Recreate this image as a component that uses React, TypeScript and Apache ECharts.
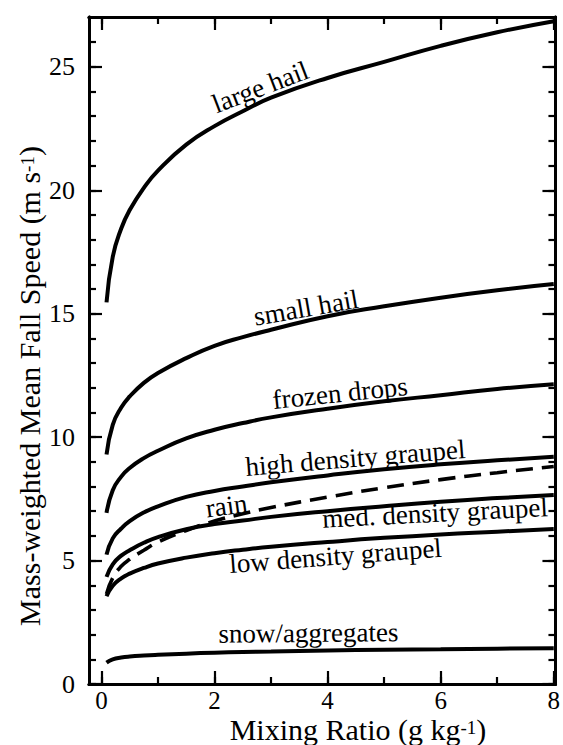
import React, { useEffect, useRef } from "react";
import * as echarts from "echarts";

// Mixing ratio (g/kg) sample positions
const mixingRatio = [0.09, 0.2, 0.35, 0.5, 0.75, 1, 1.5, 2, 2.5, 3, 4, 5, 6, 7, 8];

// Mass-weighted mean fall speed (m/s) for each category
const largeHail = [15.46, 17.3, 18.45, 19.2, 20.1, 20.8, 21.85, 22.6, 23.2, 23.75, 24.55, 25.2, 25.85, 26.4, 26.85];
const smallHail = [9.3, 10.5, 11.2, 11.65, 12.2, 12.6, 13.2, 13.7, 14.05, 14.35, 14.9, 15.3, 15.65, 15.95, 16.2];
const frozenDrops = [6.93, 7.85, 8.4, 8.75, 9.15, 9.45, 9.95, 10.3, 10.57, 10.8, 11.15, 11.45, 11.7, 11.95, 12.14];
const highDensityGraupel = [5.24, 5.9, 6.3, 6.6, 6.95, 7.2, 7.58, 7.82, 8.0, 8.17, 8.45, 8.7, 8.9, 9.06, 9.21];
const rain = [3.65, 4.3, 4.77, 5.05, 5.42, 5.75, 6.22, 6.6, 6.9, 7.15, 7.57, 7.95, 8.28, 8.56, 8.81];
const medDensityGraupel = [4.34, 4.85, 5.2, 5.42, 5.72, 5.95, 6.27, 6.48, 6.62, 6.77, 7.0, 7.2, 7.38, 7.53, 7.66];
const lowDensityGraupel = [3.55, 3.98, 4.28, 4.47, 4.7, 4.88, 5.12, 5.3, 5.44, 5.56, 5.75, 5.92, 6.06, 6.17, 6.28];
const snowAggregates = [0.87, 1.0, 1.07, 1.11, 1.15, 1.18, 1.23, 1.27, 1.3, 1.32, 1.36, 1.39, 1.41, 1.43, 1.45];

// Tick positions
const xMinorTicks = [0, 1, 2, 3, 4, 5, 6, 7, 8];
const xMajorTicks = [0, 2, 4, 6, 8];
const yMinorTicks = [0, 1, 2, 3, 4, 5, 6, 7, 8, 9, 10, 11, 12, 13, 14, 15, 16, 17, 18, 19, 20, 21, 22, 23, 24, 25, 26];
const yMajorTicks = [0, 5, 10, 15, 20, 25];

// Curve annotations (anchor in data space, angle in degrees)
const curveLabels = [
  { text: "large hail", x: 2.81, y: 24.18, angle: 21 },
  { text: "small hail", x: 3.62, y: 15.24, angle: 10 },
  { text: "frozen drops", x: 4.22, y: 11.79, angle: 6 },
  { text: "high density graupel", x: 4.49, y: 9.16, angle: 4.7 },
  { text: "rain", x: 2.21, y: 7.22, angle: 8 },
  { text: "med. density graupel", x: 5.9, y: 6.93, angle: 3 },
  { text: "low density graupel", x: 4.14, y: 5.19, angle: 4.4 },
  { text: "snow/aggregates", x: 3.66, y: 2.07, angle: 0.5 },
];

const FONT = "Liberation Serif";
const X_MIN = -0.22;
const X_MAX = 8.03;
const Y_MIN = 0;
const Y_MAX = 27.02;

export default function App() {
  const ref = useRef<HTMLDivElement>(null);

  useEffect(() => {
    if (!ref.current) return;
    const chart = echarts.init(ref.current, null, { renderer: "svg" });

    const mkX = (position: string, ticks: number[], len: number, labels: boolean) => ({
      type: "value",
      min: X_MIN,
      max: X_MAX,
      position,
      axisLine: { show: true, onZero: false, lineStyle: { color: "#000", width: 3 } },
      axisTick: { show: true, inside: true, length: len, customValues: ticks, lineStyle: { color: "#000", width: 2.2 } },
      axisLabel: labels
        ? { show: true, customValues: xMajorTicks, fontFamily: FONT, fontSize: 25, lineHeight: 20, color: "#000", margin: 6 }
        : { show: false },
      splitLine: { show: false },
    });
    const mkY = (position: string, ticks: number[], len: number, labels: boolean) => ({
      type: "value",
      min: Y_MIN,
      max: Y_MAX,
      position,
      axisLine: { show: true, onZero: false, lineStyle: { color: "#000", width: 3 } },
      axisTick: { show: true, inside: true, length: len, customValues: ticks, lineStyle: { color: "#000", width: 2.2 } },
      axisLabel: labels
        ? { show: true, customValues: yMajorTicks, fontFamily: FONT, fontSize: 26, color: "#000", margin: 14 }
        : { show: false },
      splitLine: { show: false },
    });

    const mkSeries = (name: string, values: number[], dashed = false) => ({
      name,
      type: "line",
      xAxisIndex: 0,
      yAxisIndex: 0,
      data: mixingRatio.map((x, i) => [x, values[i]]),
      showSymbol: false,
      symbol: "none",
      smooth: 0.5,
      lineStyle: { color: "#000", width: dashed ? 3.6 : 4, type: dashed ? [17, 9] : "solid", cap: "butt" },
      silent: true,
    });

    chart.setOption({
      animation: false,
      backgroundColor: "#fff",
      grid: { left: 89, right: 6, top: 17, bottom: 61, containLabel: false },
      xAxis: [
        mkX("bottom", xMinorTicks, 7, false),
        mkX("bottom", xMajorTicks, 13, true),
        mkX("top", xMinorTicks, 7, false),
        mkX("top", xMajorTicks, 13, false),
      ],
      yAxis: [
        mkY("left", yMinorTicks, 7, false),
        mkY("left", yMajorTicks, 13, true),
        mkY("right", yMinorTicks, 7, false),
        mkY("right", yMajorTicks, 13, false),
      ],
      series: [
        mkSeries("large hail", largeHail),
        mkSeries("small hail", smallHail),
        mkSeries("frozen drops", frozenDrops),
        mkSeries("high density graupel", highDensityGraupel),
        mkSeries("rain", rain, true),
        mkSeries("med. density graupel", medDensityGraupel),
        mkSeries("low density graupel", lowDensityGraupel),
        mkSeries("snow/aggregates", snowAggregates),
      ],
    });

    const labelEls = curveLabels.map((l) => {
      const p = chart.convertToPixel({ xAxisIndex: 0, yAxisIndex: 0 }, [l.x, l.y]) as number[];
      return {
        type: "text",
        x: p[0],
        y: p[1],
        rotation: (l.angle * Math.PI) / 180,
        silent: true,
        style: {
          text: l.text,
          fontFamily: FONT,
          fontSize: 27,
          fill: "#000",
          align: "center",
          verticalAlign: "middle",
        },
      };
    });

    const rich = {
      n: { fontFamily: FONT, fontSize: 30, lineHeight: 26, verticalAlign: "bottom", fill: "#000", color: "#000" },
      s: { fontFamily: FONT, fontSize: 19, lineHeight: 10, verticalAlign: "top", fill: "#000", color: "#000" },
    };

    chart.setOption({
      graphic: [
        ...labelEls,
        {
          type: "text",
          x: 358,
          y: 731,
          silent: true,
          style: {
            text: "{n|Mixing Ratio (g kg}{s|-1}{n|)}",
            rich,
            align: "center",
            verticalAlign: "middle",
            fill: "#000",
          },
        },
        {
          type: "text",
          x: 31,
          y: 386,
          rotation: Math.PI / 2,
          silent: true,
          style: {
            text: "{n|Mass-weighted Mean Fall Speed (m s}{s|-1}{n|)}",
            rich,
            align: "center",
            verticalAlign: "middle",
            fill: "#000",
          },
        },
      ],
    });

    return () => chart.dispose();
  }, []);

  return (
    <div
      ref={ref}
      style={{ position: "fixed", left: 0, top: 0, width: 563, height: 745, background: "#fff" }}
    />
  );
}
